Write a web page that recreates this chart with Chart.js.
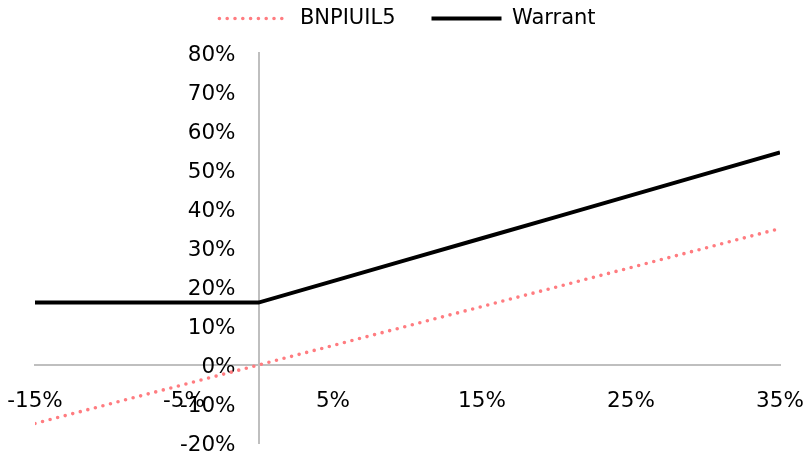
<!DOCTYPE html>
<html>
<head>
<meta charset="utf-8">
<script src="https://cdn.jsdelivr.net/npm/chart.js@4"></script>
<style>
  html, body { margin: 0; padding: 0; background: #ffffff; }
  #wrap { width: 803px; height: 453px; }
</style>
</head>
<body>
<div id="wrap"><canvas id="c" width="803" height="453"></canvas></div>
<script>
// ---- data ----
const X_VALUES   = [-15, -10, -5, 0, 5, 10, 15, 20, 25, 30, 35];          // underlying move (%)
const BNPIUIL5   = [-15, -10, -5, 0, 5, 10, 15, 20, 25, 30, 35];          // %
const WARRANT    = [16, 16, 16, 16, 21.5, 27, 32.5, 38, 43.5, 49, 54.5];   // %
const SERIES_NAMES = ['BNPIUIL5', 'Warrant'];
const X_TICKS    = [-15, -5, 5, 15, 25, 35];
const Y_TICKS    = [-20, -10, 0, 10, 20, 30, 40, 50, 60, 70, 80];

const toPoints = (ys) => X_VALUES.map((x, i) => ({ x: x, y: ys[i] }));

Chart.defaults.font.family = "'DejaVu Sans', sans-serif";
Chart.defaults.font.size = 21;
Chart.defaults.color = '#000000';

const LEGEND_PAD = 36;
const LEGEND_TOP = -28;

// Place the axes so they cross at (0, 0), with labels kept outside the crossing lines
const crossAxes = {
  id: 'crossAxes',
  afterLayout(chart) {
    const xs = chart.scales.x, ys = chart.scales.y;
    const y0 = ys.getPixelForValue(0);
    xs.top = y0; xs.bottom = chart.height;
    const x0 = xs.getPixelForValue(0);
    ys.left = 0; ys.right = x0;
    if (chart.legend) {
      const h = chart.legend.height;
      chart.legend.top = LEGEND_TOP;
      chart.legend.bottom = LEGEND_TOP + h;
    }
  }
};

const zeroFit = (s) => {
  if (s.isHorizontal()) s.height = 0; else s.width = 0;
  s.paddingTop = 0; s.paddingBottom = 0; s.paddingLeft = 0; s.paddingRight = 0;
};

new Chart(document.getElementById('c'), {
  type: 'line',
  data: {
    datasets: [
      {
        label: SERIES_NAMES[0],
        data: toPoints(BNPIUIL5),
        borderColor: '#ff7c80',
        backgroundColor: '#ff7c80',
        borderWidth: 3.6,
        borderDash: [0, 7.8],
        borderCapStyle: 'round',
        pointRadius: 0,
        tension: 0,
        fill: false
      },
      {
        label: SERIES_NAMES[1],
        data: toPoints(WARRANT),
        borderColor: '#000000',
        backgroundColor: '#000000',
        borderWidth: 4,
        borderCapStyle: 'butt',
        pointRadius: 0,
        tension: 0,
        fill: false
      }
    ]
  },
  options: {
    responsive: false,
    animation: false,
    devicePixelRatio: 1,
    layout: { padding: { left: 35, right: 23, top: 0, bottom: 10 } },
    plugins: {
      tooltip: { enabled: false },
      legend: {
        display: true,
        position: 'top',
        maxHeight: 53,
        labels: {
          usePointStyle: true,
          pointStyle: 'line',
          pointStyleWidth: 70,
          padding: LEGEND_PAD,
          color: '#000000',
          font: { size: 21 },
          generateLabels: (chart) => {
            const items = Chart.defaults.plugins.legend.labels.generateLabels(chart);
            items.forEach((it) => {
              const ds = chart.data.datasets[it.datasetIndex];
              it.lineDash = ds.borderDash || [];
              it.lineCap = ds.borderCapStyle || 'butt';
              it.lineWidth = ds.borderWidth;
              it.strokeStyle = ds.borderColor;
              it.fillStyle = 'rgba(0,0,0,0)';
              it.pointStyle = 'line';
            });
            return items;
          }
        }
      }
    },
    scales: {
      x: {
        type: 'linear',
        position: 'bottom',
        min: -15,
        max: 35,
        afterFit: zeroFit,
        afterBuildTicks: (s) => { s.ticks = X_TICKS.map(v => ({ value: v })); },
        grid: { display: true, drawOnChartArea: false, drawTicks: false },
        border: { display: true, color: '#bfbfbf', width: 2 },
        ticks: {
          padding: 24,
          maxRotation: 0,
          autoSkip: false,
          color: '#000000',
          font: { size: 21.5 },
          callback: (v) => v + '%'
        }
      },
      y: {
        type: 'linear',
        position: 'left',
        min: -20,
        max: 80,
        afterFit: zeroFit,
        afterBuildTicks: (s) => { s.ticks = Y_TICKS.map(v => ({ value: v })); },
        grid: { display: true, drawOnChartArea: false, drawTicks: false },
        border: { display: true, color: '#bfbfbf', width: 2 },
        ticks: {
          padding: 23,
          labelOffset: 2,
          autoSkip: false,
          color: '#000000',
          font: { size: 21.5 },
          callback: (v) => v + '%'
        }
      }
    }
  },
  plugins: [crossAxes]
});
</script>
</body>
</html>
